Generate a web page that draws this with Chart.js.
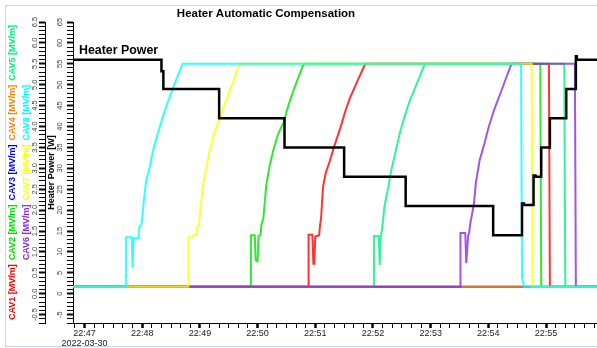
<!DOCTYPE html>
<html>
<head>
<meta charset="utf-8">
<script src="https://cdn.jsdelivr.net/npm/chart.js@4.4.1/dist/chart.umd.min.js"></script>
<style>
  body { margin: 0; background: #fff; }
  #frame { position: absolute; left: 5px; top: 5px; width: 600px; height: 340px; border: 1px solid #c9d6e6; }
  #wrap { position: absolute; left: 0; top: 0; width: 597px; height: 348px; }
</style>
</head>
<body>
<div id="frame"></div>
<div id="wrap"><canvas id="chart" width="597" height="348"></canvas></div>
<script>
// time window and date
var startTime = "22:46:48";
var endTime = "22:55:53";
var dateLabel = "2022-03-30";

// heater power [W]
var heaterTimes = ["22:46:48","22:48:20","22:48:22","22:49:20","22:50:28","22:51:30","22:52:34","22:54:05","22:54:35","22:54:37","22:54:47","22:54:49","22:54:55","22:55:04","22:55:21","22:55:31","22:55:32","22:55:53"];
var heaterValues = [56, 53.2, 49, 42, 35, 28, 21, 14, 21.6, 21.2, 28.3, 28, 35, 42, 49, 56.8, 56, 56];

// cavity gradients [MV/m]
var cav1Times = ["22:46:48","22:50:53","22:50:53","22:50:57","22:50:58","22:50:59","22:51:00","22:51:04","22:51:05","22:51:06","22:51:08","22:51:11","22:51:15","22:51:20","22:51:26","22:51:31","22:51:36","22:51:44","22:51:52","22:55:03","22:55:04","22:55:53"];
var cav1Values = [0.17, 0.17, 1.41, 1.41, 0.72, 0.72, 1.37, 1.40, 1.65, 1.80, 2.55, 2.90, 3.17, 3.55, 3.96, 4.35, 4.68, 5.10, 5.50, 5.50, 0.17, 0.17];

var cav2Times = ["22:46:48","22:49:53","22:49:53","22:49:57","22:49:58","22:50:00","22:50:01","22:50:03","22:50:04","22:50:06","22:50:09","22:50:12","22:50:16","22:50:21","22:50:27","22:50:32","22:50:37","22:50:42","22:50:48","22:54:54","22:54:55","22:55:53"];
var cav2Values = [0.17, 0.17, 1.40, 1.40, 0.80, 0.78, 1.38, 1.40, 1.65, 1.80, 2.60, 3.00, 3.40, 3.80, 4.10, 4.50, 4.84, 5.15, 5.50, 5.50, 0.17, 0.17];

var cav3Times = ["22:46:48","22:55:53"];
var cav3Values = [0.17, 0.17];

var cav4Times = ["22:46:48","22:55:53"];
var cav4Values = [0.17, 0.17];

var cav5Times = ["22:46:48","22:52:01","22:52:01","22:52:06","22:52:07","22:52:08","22:52:10","22:52:12","22:52:16","22:52:19","22:52:23","22:52:28","22:52:33","22:52:38","22:52:46","22:52:54","22:55:19","22:55:20","22:55:53"];
var cav5Values = [0.17, 0.17, 1.38, 1.38, 0.69, 1.32, 1.65, 2.10, 2.55, 2.95, 3.35, 3.85, 4.25, 4.60, 5.05, 5.50, 5.50, 0.17, 0.17];

var cav6Times = ["22:46:48","22:53:31","22:53:31","22:53:36","22:53:37","22:53:39","22:53:40","22:53:41","22:53:43","22:53:45","22:53:47","22:53:51","22:53:56","22:54:00","22:54:06","22:54:12","22:54:18","22:54:24","22:55:30","22:55:31","22:55:53"];
var cav6Values = [0.17, 0.17, 1.45, 1.45, 0.73, 1.40, 1.45, 1.65, 1.90, 2.15, 2.65, 3.20, 3.60, 3.96, 4.40, 4.76, 5.13, 5.50, 5.50, 0.17, 0.17];

var cav7Times = ["22:46:48","22:48:48","22:48:48","22:48:52","22:48:53","22:48:57","22:48:57","22:48:59","22:49:01","22:49:03","22:49:06","22:49:10","22:49:15","22:49:21","22:49:26","22:49:31","22:49:36","22:49:41","22:54:45","22:54:46","22:55:53"];
var cav7Values = [0.17, 0.17, 1.35, 1.35, 1.40, 1.40, 1.58, 1.65, 2.10, 2.55, 2.95, 3.40, 3.85, 4.22, 4.55, 4.85, 5.15, 5.50, 5.50, 0.17, 0.17];

var cav8Times = ["22:46:48","22:47:43","22:47:43","22:47:49","22:47:50","22:47:51","22:47:56","22:47:57","22:47:59","22:48:00","22:48:02","22:48:04","22:48:08","22:48:11","22:48:16","22:48:21","22:48:26","22:48:32","22:48:37","22:48:42","22:54:34","22:54:35","22:54:37","22:55:53"];
var cav8Values = [0.17, 0.17, 1.35, 1.35, 0.61, 1.33, 1.33, 1.60, 1.65, 1.82, 2.30, 2.69, 3.05, 3.40, 3.82, 4.20, 4.55, 4.92, 5.22, 5.50, 5.50, 0.40, 0.17, 0.17];

var cavNames = ["CAV1 [MV/m]","CAV2 [MV/m]","CAV3 [MV/m]","CAV4 [MV/m]","CAV5 [MV/m]","CAV6 [MV/m]","CAV7 [MV/m]","CAV8 [MV/m]"];
var cavColors = ["#ff0000","#00e000","#0000ff","#ff8000","#00f080","#8a2be2","#ffff00","#00ffff"];
var cavLineColors = ["rgba(255,0,0,0.8)","rgba(0,224,0,0.8)","rgba(0,0,255,0.8)","rgba(255,128,0,0.8)","rgba(0,240,128,0.8)","rgba(138,43,226,0.8)","rgba(255,255,0,0.8)","rgba(0,255,255,0.8)"];
var cavOrder = [6, 7, 8, 4, 5, 3, 2, 1];

function toSec(s) {
  var p = s.split(":");
  return (+p[0]) * 3600 + (+p[1]) * 60 + (+p[2]);
}
function pts(times, values) {
  return times.map(function (t, i) { return { x: toSec(t), y: values[i] }; });
}

var cavTimes = [cav1Times, cav2Times, cav3Times, cav4Times, cav5Times, cav6Times, cav7Times, cav8Times];
var cavValues = [cav1Values, cav2Values, cav3Values, cav4Values, cav5Values, cav6Values, cav7Values, cav8Values];

var datasets = [{
  label: "Heater Power",
  data: pts(heaterTimes, heaterValues),
  yAxisID: "yHeater",
  borderColor: "#000",
  borderWidth: 2.5,
  stepped: true,
  pointRadius: 0,
  order: 0
}];
cavNames.forEach(function (name, i) {
  datasets.push({
    label: name,
    data: pts(cavTimes[i], cavValues[i]),
    yAxisID: "yCav",
    borderColor: cavLineColors[i],
    borderWidth: 2,
    pointRadius: 0,
    tension: 0,
    order: cavOrder[i]
  });
});

Chart.defaults.font.family = '"Liberation Sans", Arial, sans-serif';

var decorPlugin = {
  id: "decor",
  afterDraw: function (chart) {
    var ctx = chart.ctx;
    var area = chart.chartArea;
    ctx.save();
    // title
    ctx.fillStyle = "#000";
    ctx.font = 'bold 11.5px "Liberation Sans", Arial, sans-serif';
    ctx.textAlign = "center";
    ctx.textBaseline = "middle";
    ctx.fillText("Heater Automatic Compensation", 266, 14);
    // series label inside plot
    ctx.font = 'bold 12.4px "Liberation Sans", Arial, sans-serif';
    ctx.textAlign = "left";
    ctx.fillText("Heater Power", area.left + 6, area.top + 29);
    // coloured axis titles for the cavity axis
    var columns = [[0, 1, 2, 3, 4], [5, 6, 7]];
    var colX = [13, 27];
    var gap = 4;
    var cy = (area.top + area.bottom) / 2;
    ctx.font = 'bold 9px "Liberation Sans", Arial, sans-serif';
    columns.forEach(function (col, c) {
      var total = 0;
      col.forEach(function (k) { total += ctx.measureText(cavNames[k]).width; });
      total += gap * (col.length - 1);
      var pos = cy + total / 2;
      col.forEach(function (k) {
        var w = ctx.measureText(cavNames[k]).width;
        ctx.save();
        ctx.translate(colX[c], pos);
        ctx.rotate(-Math.PI / 2);
        ctx.fillStyle = cavColors[k];
        ctx.textAlign = "left";
        ctx.textBaseline = "middle";
        ctx.fillText(cavNames[k], 0, 0);
        ctx.restore();
        pos -= w + gap;
      });
    });
    ctx.restore();
  }
};

function pad2(n) { return (n < 10 ? "0" : "") + n; }

new Chart(document.getElementById("chart"), {
  type: "line",
  data: { datasets: datasets },
  options: {
    responsive: false,
    animation: false,
    devicePixelRatio: 1,
    layout: { padding: { top: 22, left: 0, right: 0, bottom: 0 } },
    plugins: {
      legend: { display: false },
      tooltip: { enabled: false },
      title: { display: false }
    },
    scales: {
      x: {
        type: "linear",
        min: toSec(startTime),
        max: toSec(endTime),
        border: { display: true, color: "#000", width: 1 },
        grid: {
          drawOnChartArea: false,
          tickLength: 5,
          tickColor: "#000",
          tickWidth: function (c) { return Math.round(c.tick.value) % 60 === 0 ? 2.5 : 1; }
        },
        ticks: {
          stepSize: 10,
          autoSkip: false,
          includeBounds: false,
          maxRotation: 0,
          padding: 1,
          color: "#222",
          font: { size: 9, lineHeight: 1.05 },
          callback: function (v, i, ticks) {
            var s = Math.round(v);
            if (s % 60 !== 0) return "";
            var lbl = pad2(Math.floor(s / 3600)) + ":" + pad2(Math.floor((s % 3600) / 60));
            var first = ticks.find(function (t) { return Math.round(t.value) % 60 === 0; });
            if (first && Math.round(first.value) === s) return [lbl, dateLabel];
            return lbl;
          }
        },
        afterFit: function (scale) { scale.height = 25; }
      },
      yHeater: {
        type: "linear",
        position: "left",
        weight: 0,
        min: -7,
        max: 65,
        border: { display: true, color: "#000", width: 1 },
        grid: {
          drawOnChartArea: false,
          tickLength: 6,
          tickColor: "#000",
          tickWidth: function (c) { return Math.round(c.tick.value) % 5 === 0 ? 2 : 1; }
        },
        title: {
          display: true,
          text: "Heater Power [W]",
          color: "#000",
          font: { size: 9, weight: "bold" },
          padding: { top: 1.6, bottom: 0 }
        },
        ticks: {
          stepSize: 1,
          autoSkip: false,
          includeBounds: false,
          minRotation: 90,
          maxRotation: 90,
          crossAlign: "center",
          padding: 2.8,
          color: "#444",
          font: { size: 7.5 },
          callback: function (v) { return Math.round(v) % 5 === 0 ? String(Math.round(v)) : ""; }
        },
        afterFit: function (scale) { scale.width = 28; }
      },
      yCav: {
        type: "linear",
        position: "left",
        weight: 1,
        min: -0.7,
        max: 6.5,
        border: { display: true, color: "#000", width: 1 },
        grid: {
          drawOnChartArea: false,
          tickLength: 6,
          tickColor: "#000",
          tickWidth: function (c) { return Math.round(c.tick.value * 10) % 5 === 0 ? 2 : 1; }
        },
        ticks: {
          stepSize: 0.1,
          autoSkip: false,
          includeBounds: false,
          minRotation: 90,
          maxRotation: 90,
          crossAlign: "center",
          padding: -2.5,
          color: "#444",
          font: { size: 7.5 },
          callback: function (v) { return Math.round(v * 10) % 5 === 0 ? (Math.round(v * 10) / 10).toFixed(1) : ""; }
        },
        afterFit: function (scale) { scale.width = 45; }
      }
    }
  },
  plugins: [decorPlugin]
});
</script>
</body>
</html>
